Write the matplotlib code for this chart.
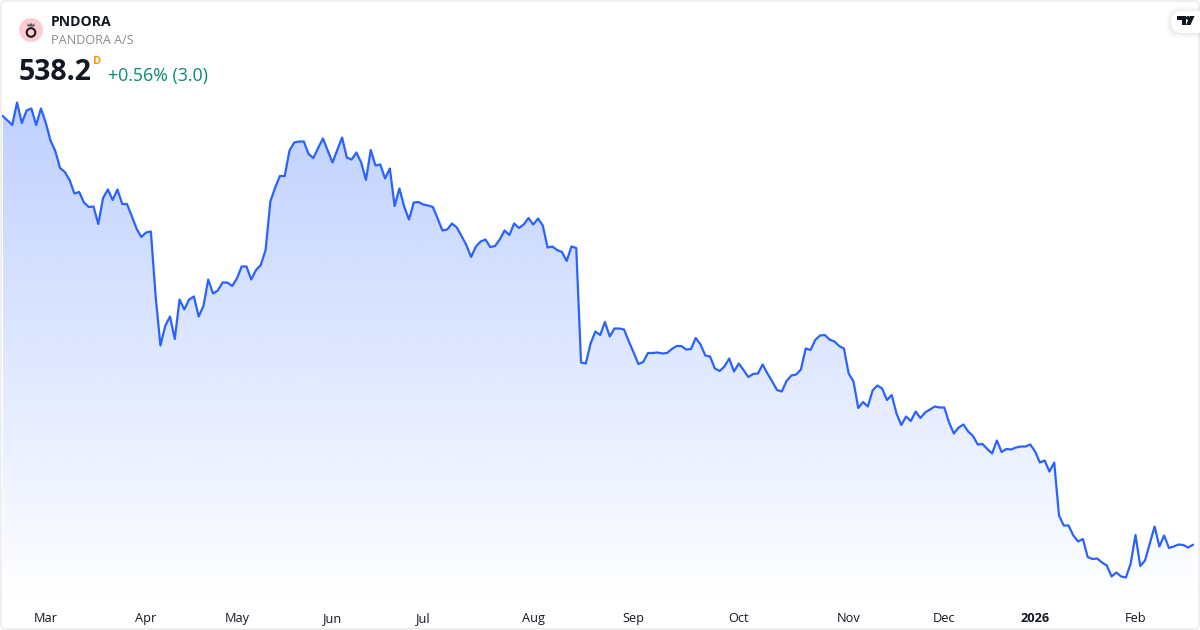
import numpy as np
import matplotlib
matplotlib.use('Agg')
import matplotlib.pyplot as plt
from matplotlib.patches import Circle, FancyBboxPatch, Polygon

plt.rcParams['font.family'] = ['Open Sans', 'DejaVu Sans']

# daily close
close = [1396, 1387, 1378, 1423, 1382, 1407, 1411, 1378, 1411, 1383,
         1347, 1326, 1292, 1284, 1268, 1241, 1244, 1223, 1214, 1215,
         1180, 1232, 1249, 1228, 1249, 1220, 1220, 1196, 1171, 1154,
         1163, 1165, 1035, 937, 976, 995, 950, 1029, 1009, 1029,
         1035, 995, 1016, 1069, 1041, 1047, 1063, 1063, 1056, 1071,
         1095, 1095, 1069, 1088, 1098, 1128, 1225, 1253, 1276, 1276,
         1327, 1343, 1345, 1345, 1320, 1312, 1332, 1351, 1327, 1303,
         1328, 1353, 1313, 1309, 1323, 1303, 1268, 1328, 1297, 1299,
         1271, 1291, 1216, 1251, 1215, 1189, 1223, 1224, 1219, 1217,
         1214, 1191, 1167, 1169, 1181, 1173, 1156, 1138, 1114, 1135,
         1145, 1149, 1134, 1136, 1149, 1167, 1158, 1181, 1172, 1179,
         1192, 1179, 1191, 1177, 1133, 1135, 1128, 1124, 1106, 1135,
         1132, 903, 901, 941, 965, 958, 984, 955, 971, 971,
         969, 945, 923, 900, 904, 922, 922, 923, 921, 922,
         930, 936, 936, 929, 930, 952, 939, 917, 915, 891,
         886, 895, 911, 885, 901, 888, 874, 880, 881, 899,
         881, 865, 848, 845, 866, 877, 879, 889, 931, 928,
         948, 957, 958, 949, 945, 936, 931, 881, 865, 812,
         824, 815, 847, 857, 851, 828, 838, 801, 778, 795,
         786, 805, 792, 803, 809, 815, 813, 813, 783, 761,
         773, 779, 765, 756, 739, 740, 730, 721, 747, 724,
         730, 729, 733, 735, 735, 739, 725, 703, 707, 685,
         703, 597, 577, 577, 557, 545, 550, 514, 510, 511,
         503, 497, 475, 483, 475, 473, 501, 558, 496, 507,
         541, 575, 535, 557, 532, 535, 539, 538, 533, 538.2]

tick_pos = [9, 30, 49, 69, 88, 111, 132, 154, 177, 197, 216, 237]
tick_labels = ['Mar', 'Apr', 'May', 'Jun', 'Jul', 'Aug', 'Sep', 'Oct', 'Nov', 'Dec', '2026', 'Feb']

x = np.arange(len(close))

fig = plt.figure(figsize=(12, 6.3), dpi=100, facecolor='white')
ax = fig.add_axes([0, 26 / 630, 1, 604 / 630])

# gradient under the line
grad = np.zeros((256, 2, 4))
grad[..., 0] = 41 / 255
grad[..., 1] = 98 / 255
grad[..., 2] = 1
grad[..., 3] = np.linspace(0.30, 0.0, 256)[:, None]
im = ax.imshow(grad, extent=[x[0], x[-1], 420, max(close)], origin='upper',
               aspect='auto', zorder=1, interpolation='bilinear')
poly = ax.fill_between(x, close, 420, color='none')
im.set_clip_path(poly.get_paths()[0], transform=ax.transData)
ax.set_xlim(-0.565, 250.5)
ax.set_ylim(420, 1628)

ax.plot(x, close, color='#2962ff', lw=1.6, zorder=2, solid_joinstyle='round')

for s in ax.spines.values():
    s.set_visible(False)
ax.set_yticks([])
ax.set_xticks(tick_pos)
ax.set_xticklabels(tick_labels, fontsize=9.2, color='#131722')
ax.tick_params(axis='x', length=0, pad=6)
ax.get_xticklabels()[10].set_fontweight('bold')

# overlay in pixels for the header, logos and frame
deco = fig.add_axes([0, 0, 1, 1], facecolor='none')
deco.set_xlim(0, 1200)
deco.set_ylim(630, 0)
deco.axis('off')

deco.add_patch(FancyBboxPatch((1, 1), 1198, 628, boxstyle='round,pad=0,rounding_size=5',
                              fc='none', ec='#eeeeee', lw=1.3))

# company logo
deco.add_patch(Circle((31, 30), 12, fc='#fdccd3', ec='none'))
deco.add_patch(Circle((31, 32.5), 4.3, fc='none', ec='#1b1b1b', lw=1.5))
deco.add_patch(Polygon([(27.5, 26.5), (27.5, 23), (29, 25), (31, 23), (33, 25), (34.5, 23), (34.5, 26.5)],
                       fc='#555555', ec='none'))

deco.text(51, 21.5, 'PNDORA', fontsize=10.1, fontweight='bold', color='#131722', va='center', ha='left')
deco.text(51, 41, 'PANDORA A/S', fontsize=9.1, color='#8c8c8c', va='center', ha='left')
deco.text(19, 72.5, '538.2', fontsize=20.4, fontweight='bold', color='#131722', va='center', ha='left')
deco.text(93, 62, 'D', fontsize=8, fontweight='bold', color='#ff9800', va='center', ha='left')
deco.text(108, 75.5, '+0.56% (3.0)', fontsize=12.8, color='#088a75', va='center', ha='left')

# tradingview badge, runs off the right edge
for off, a in [(5, 0.01), (4, 0.012), (3, 0.014), (2, 0.016), (1, 0.018)]:
    deco.add_patch(FancyBboxPatch((1171 - off, 11 - off + 1), 60 + 2 * off, 21 + 2 * off,
                                  boxstyle='round,pad=0,rounding_size=11',
                                  fc='black', ec='none', alpha=a))
deco.add_patch(FancyBboxPatch((1171, 11), 60, 22, boxstyle='round,pad=0,rounding_size=11',
                              fc='white', ec='none'))
deco.add_patch(Polygon([(1177, 16), (1186, 16), (1186, 25), (1181.5, 25), (1181.5, 20), (1177, 20)],
                       fc='#131722', ec='none'))
deco.add_patch(Circle((1188, 18), 2, fc='#131722', ec='none'))
deco.add_patch(Polygon([(1190, 16), (1194.5, 16), (1190.5, 25), (1186, 25)], fc='#131722', ec='none'))

fig.savefig('out.png', dpi=100)
